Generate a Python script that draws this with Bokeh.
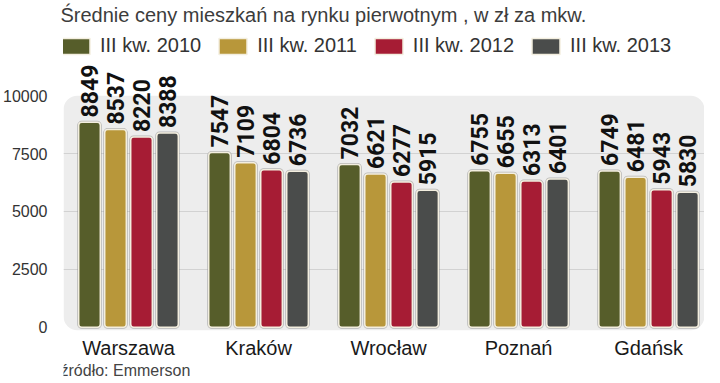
import numpy as np
from bokeh.plotting import figure
from bokeh.models import (ColumnDataSource, LabelSet, Label, BoxAnnotation, FixedTicker,
                          Range1d, Legend, LegendItem)
from bokeh.core.properties import value
from bokeh.embed import file_html
from bokeh.resources import INLINE

# ---- data ----
cities = ["Warszawa", "Kraków", "Wrocław", "Poznań", "Gdańsk"]
series = ["III kw. 2010", "III kw. 2011", "III kw. 2012", "III kw. 2013"]
q3_2010 = [8849, 7547, 7032, 6755, 6749]
q3_2011 = [8537, 7109, 6621, 6655, 6481]
q3_2012 = [8220, 6804, 6277, 6313, 5943]
q3_2013 = [8388, 6736, 5915, 6401, 5830]
y_ticks = [0, 2500, 5000, 7500, 10000]
grid_ticks = [2500, 5000, 7500]
title_text = "Średnie ceny mieszkań na rynku pierwotnym , w zł za mkw."
source_text = "źródło: Emmerson"

# ---- style ----
colors = ["#565d2a", "#b8973a", "#a61c34", "#4a4c4b"]
offsets = [-0.3, -0.1, 0.1, 0.3]
bar_w = 0.166
FONT = "Liberation Sans"
NUM_FONT = "Roboto"

p = figure(width=704, height=380, output_backend="svg", toolbar_location=None,
           x_axis_location=None,
           x_range=Range1d(-0.5, 4.43), y_range=Range1d(-2300, 12990),
           min_border_left=0, min_border_right=0, min_border_top=0, min_border_bottom=0)
p.outline_line_color = None
p.background_fill_color = "white"
p.border_fill_color = "white"

p.title.text = title_text
p.title.text_font = FONT
p.title.text_font_size = "20px"
p.title.text_font_style = "normal"
p.title.text_color = "#3c3c3c"
p.title.align = "left"
p.title.offset = -3
p.title.standoff = 2

# background panel
box = BoxAnnotation(top=10000, bottom=-130, fill_color="#ededed", fill_alpha=1.0,
                    line_color=None, border_radius=14, level="underlay")
p.center = [box] + list(p.center)

p.xgrid.visible = False
p.ygrid.ticker = FixedTicker(ticks=grid_ticks)
p.ygrid.grid_line_color = "#d2d2d2"

# axes
p.yaxis.ticker = FixedTicker(ticks=y_ticks)
p.yaxis.axis_line_color = None
p.yaxis.major_tick_line_color = None
p.yaxis.minor_tick_line_color = None
p.yaxis.major_label_text_font = FONT
p.yaxis.major_label_text_font_size = "16px"
p.yaxis.major_label_text_color = "#333333"
p.yaxis.major_label_standoff = 10

# category labels under the groups
cat_src = ColumnDataSource(dict(x=np.arange(len(cities)), y=[0] * len(cities), name=cities))
p.add_layout(LabelSet(x="x", y="y", text="name", source=cat_src, y_offset=-21,
                      text_align="center", text_baseline="middle",
                      text_font=value(FONT), text_font_size="20px", text_color="#1a1a1a"))

items = []
for j, vals in enumerate([q3_2010, q3_2011, q3_2012, q3_2013]):
    src = ColumnDataSource(dict(x=np.arange(len(cities)) + offsets[j], top=vals,
                                label=[str(v) for v in vals]))
    p.vbar(x="x", top="top", bottom=0, width=bar_w, source=src, fill_color=None,
           line_color="#8a8a8a", line_width=3, line_alpha=0.55, border_radius=3)
    r = p.vbar(x="x", top="top", bottom=0, width=bar_w, source=src, fill_color=colors[j],
               line_color="#f3eedf", line_width=1.5, border_radius=3)
    items.append(LegendItem(label=series[j], renderers=[r]))
    p.add_layout(LabelSet(x="x", y="top", text="label", source=src, angle=np.pi / 2,
                          text_align="left", text_baseline="middle", y_offset=5,
                          text_font=value(NUM_FONT), text_font_size="23px",
                          text_font_style="bold", text_color="#111111"))

legend = Legend(items=items, orientation="horizontal", location=(-5, 323),
                glyph_width=35, glyph_height=20, label_standoff=7, spacing=14,
                padding=2, margin=0, label_height=20,
                label_text_font=FONT, label_text_font_size="20px", label_text_color="#333333",
                border_line_color=None, background_fill_alpha=0)
p.add_layout(legend, "center")

p.add_layout(Label(x=-3, y=10, x_units="screen", y_units="screen", text=source_text,
                   text_align="left", text_baseline="middle", text_font=FONT,
                   text_font_size="16px", text_color="#444444"))

open("out.html", "w").write(file_html(p, INLINE))
